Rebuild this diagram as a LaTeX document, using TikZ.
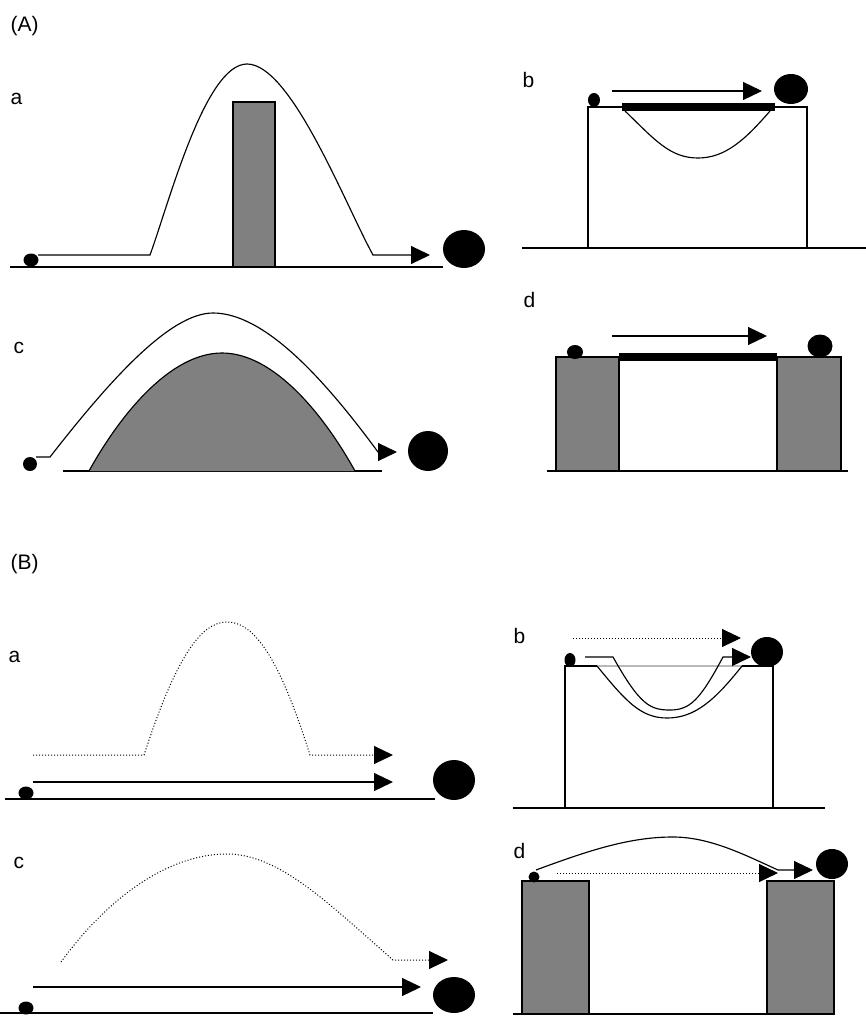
\documentclass[tikz,border=0pt]{standalone}
\usepackage{fontspec}
\setmainfont{Liberation Sans}
\usetikzlibrary{arrows.meta}
\definecolor{blockgray}{RGB}{128,128,128}
\definecolor{ghostgray}{RGB}{185,185,185}
\tikzset{
  lbl/.style={font=\fontsize{21}{25}\selectfont, inner sep=0pt, anchor=base west},
  arrowtri/.style={-{Triangle[length=19pt,width=18pt]}},
  dotline/.style={dash pattern=on 1pt off 2pt, line width=1pt},
  block/.style={draw, fill=blockgray},
  thickbar/.style={line width=8pt},
  ball/.style={fill=black}
}
\begin{document}
\begin{tikzpicture}[x=1pt,y=-1pt,line width=1.15pt]
\useasboundingbox (0,0) rectangle (866,1017);

% labels
\node[lbl] (labA) at (10,31) {(A)};
\node[lbl] (labAa) at (10,104) {a};
\node[lbl] (labAb) at (522,87) {b};
\node[lbl] (labAc) at (13,353) {c};
\node[lbl] (labAd) at (523,307) {d};
\node[lbl] (labB) at (10,569) {(B)};
\node[lbl] (labBa) at (8,662) {a};
\node[lbl] (labBb) at (513,643) {b};
\node[lbl] (labBc) at (13,868) {c};
\node[lbl] (labBd) at (513,858) {d};

% ---------- (A) a ----------
\draw (10,267) -- (443,267);
\filldraw[block] (233,102) rectangle (275,267);
\draw[arrowtri] (38,255) -- (150,255) .. controls (169,203) and (205,64) .. (247,64)
   .. controls (291,64) and (345,204) .. (373,255) -- (430,255);
\fill[ball] (31,260) ellipse [x radius=7.5pt, y radius=6.5pt];
\fill[ball] (464,249) ellipse [x radius=21pt, y radius=19pt];

% ---------- (A) b ----------
\draw (522,248) -- (866,248);
\draw (588,248) -- (588,107) -- (807,107) -- (807,248);
\draw (625,111) .. controls (655,140) and (670,158) .. (698,158)
   .. controls (725,158) and (745,140) .. (770,111);
\draw[thickbar] (622,107) -- (775,107);
\draw[arrowtri] (612,91) -- (762,91);
\fill[ball] (594,100) ellipse [x radius=6pt, y radius=7pt];
\fill[ball] (791,89) ellipse [x radius=17pt, y radius=15pt];

% ---------- (A) c ----------
\draw (63,471) -- (382,471);
\filldraw[block] (89,471) .. controls (120,415) and (170,353) .. (222,353)
   .. controls (274,353) and (324,415) .. (355,471);
\draw[arrowtri] (36,457) -- (50,457) .. controls (110,380) and (170,313) .. (213,313)
   .. controls (265,313) and (325,380) .. (378,452) -- (397,452);
\fill[ball] (30,464) circle (7pt);
\fill[ball] (428,451) circle (20pt);

% ---------- (A) d ----------
\draw (547,471) -- (848,471);
\filldraw[block] (556,357) rectangle (619,471);
\filldraw[block] (777,357) rectangle (841,471);
\draw[thickbar] (619,357) -- (777,357);
\draw[arrowtri] (612,336) -- (767,336);
\fill[ball] (575,352) ellipse [x radius=8pt, y radius=7pt];
\fill[ball] (820,346) ellipse [x radius=12.5pt, y radius=11.5pt];

% ---------- (B) a ----------
\draw (5,799) -- (435,799);
\draw[arrowtri] (33,782) -- (393,782);
\draw[dotline, arrowtri] (33,755) -- (144,755) .. controls (175,660) and (200,622) .. (227,622)
   .. controls (255,622) and (280,660) .. (310,755) -- (393,755);
\fill[ball] (26,793) ellipse [x radius=7.5pt, y radius=6.5pt];
\fill[ball] (454,780) ellipse [x radius=21pt, y radius=20pt];

% ---------- (B) b ----------
\draw (513,808) -- (825,808);
\draw[ghostgray] (597,666) -- (742,666);
\draw (597,666) -- (565,666) -- (565,808);
\draw (742,666) -- (773,666) -- (773,808);
\draw (597,666) .. controls (625,700) and (640,718) .. (667,718)
   .. controls (695,718) and (715,700) .. (742,666);
\draw[arrowtri] (585,657) -- (613,657) .. controls (640,705) and (650,710) .. (670,710)
   .. controls (690,710) and (700,700) .. (723,657) -- (751,657);
\draw[dotline, arrowtri] (573,638) -- (741,638);
\fill[ball] (570,660) ellipse [x radius=5.5pt, y radius=7pt];
\fill[ball] (767,652) ellipse [x radius=16pt, y radius=15pt];

% ---------- (B) c ----------
\draw (0,1013) -- (433,1013);
\draw[arrowtri] (33,987) -- (421,987);
\draw[dotline, arrowtri] (61,962) .. controls (110,895) and (170,854) .. (227,854)
   .. controls (280,854) and (330,905) .. (393,960) -- (448,960);
\fill[ball] (26,1008) ellipse [x radius=7.5pt, y radius=6.5pt];
\fill[ball] (454,995) ellipse [x radius=21pt, y radius=18pt];

% ---------- (B) d ----------
\draw (513,1014) -- (835,1014);
\filldraw[block] (522,881) rectangle (589,1014);
\filldraw[block] (767,881) rectangle (834,1014);
\draw[dotline, arrowtri] (557,873) -- (778,873);
\draw[arrowtri] (536,870) .. controls (590,850) and (630,837) .. (673,837)
   .. controls (710,837) and (745,855) .. (778,870) -- (813,870);
\fill[ball] (534,877) circle (5.5pt);
\fill[ball] (832,864) ellipse [x radius=16pt, y radius=15pt];
\end{tikzpicture}
\end{document}
